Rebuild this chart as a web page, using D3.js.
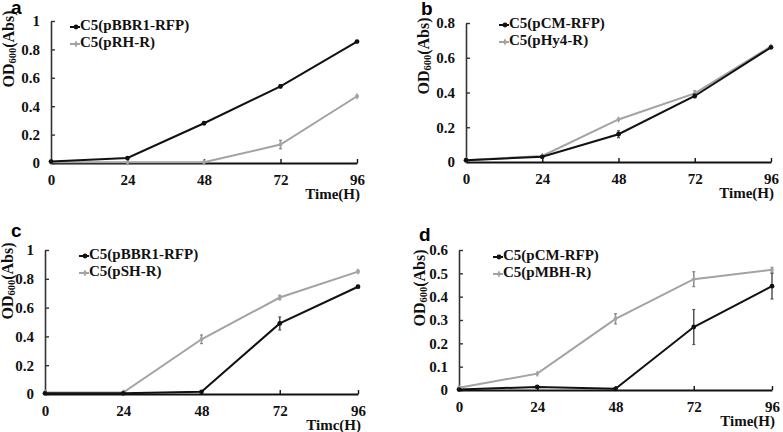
<!DOCTYPE html>
<html><head><meta charset="utf-8">
<script src="https://cdn.jsdelivr.net/npm/d3@7"></script>
<style>body{margin:0;background:#fff}svg{display:block}</style>
</head><body>
<svg id="c" width="783" height="432"></svg>
<script>
// ---- data ----
const timePoints = [0, 24, 48, 72, 96];
const xTickLabels = ["0", "24", "48", "72", "96"];
const panelLetters = ["a", "b", "c", "d"];
const xTitles = ["Time(H)", "Time(H)", "Timc(H)", "Time(H)"];
const blackNames = ["C5(pBBR1-RFP)", "C5(pCM-RFP)", "C5(pBBR1-RFP)", "C5(pCM-RFP)"];
const greyNames = ["C5(pRH-R)", "C5(pHy4-R)", "C5(pSH-R)", "C5(pMBH-R)"];

const aBlack = [0.01, 0.035, 0.28, 0.54, 0.855];
const aBlackErr = [0, 0.003, 0.005, 0.012, 0.005];
const aGrey = [0.005, 0.005, 0.005, 0.13, 0.47];
const aGreyErr = [0, 0, 0, 0.03, 0.005];

const bBlack = [0.01, 0.03, 0.16, 0.38, 0.66];
const bBlackErr = [0, 0.003, 0.02, 0.01, 0.005];
const bGrey = [0.01, 0.035, 0.245, 0.395, 0.665];
const bGreyErr = [0, 0.003, 0.005, 0.015, 0.005];

const cBlack = [0.005, 0.005, 0.015, 0.49, 0.745];
const cBlackErr = [0, 0, 0.005, 0.045, 0.008];
const cGrey = [0.01, 0.01, 0.38, 0.67, 0.85];
const cGreyErr = [0, 0, 0.03, 0.015, 0.008];

const dBlack = [0.002, 0.013, 0.005, 0.27, 0.445];
const dBlackErr = [0, 0.005, 0.002, 0.075, 0.055];
const dGrey = [0.01, 0.07, 0.305, 0.475, 0.515];
const dGreyErr = [0, 0.003, 0.022, 0.032, 0.01];

const aYTicks = [0, 0.2, 0.4, 0.6, 0.8, 1];
const aYLabels = ["0", "0.2", "0.4", "0.6", "0.8", "1"];
const bYTicks = [0, 0.2, 0.4, 0.6, 0.8];
const bYLabels = ["0", "0.2", "0.4", "0.6", "0.8"];
const cYTicks = [0, 0.2, 0.4, 0.6, 0.8, 1];
const cYLabels = ["0", "0.2", "0.4", "0.6", "0.8", "1"];
const dYTicks = [0, 0.1, 0.2, 0.3, 0.4, 0.5, 0.6];
const dYLabels = ["0", "0.1", "0.2", "0.3", "0.4", "0.5", "0.6"];

// ---- layout ----
const panels = [
  {x0: 51, x1: 357, y0: 163, y1: 21, ymax: 1, black: aBlack, be: aBlackErr, grey: aGrey, ge: aGreyErr, ticks: aYTicks, labels: aYLabels,
   letter: [11, 14], legend: [70, 27], ytitleY: 49, ytitleX: 10},
  {x0: 466, x1: 771, y0: 162, y1: 23, ymax: 0.8, black: bBlack, be: bBlackErr, grey: bGrey, ge: bGreyErr, ticks: bYTicks, labels: bYLabels,
   letter: [421, 15], legend: [499, 25], ytitleY: 56, ytitleX: 425},
  {x0: 45, x1: 358, y0: 394, y1: 250, ymax: 1, black: cBlack, be: cBlackErr, grey: cGrey, ge: cGreyErr, ticks: cYTicks, labels: cYLabels,
   letter: [11, 237], legend: [79, 256], ytitleY: 281, ytitleX: 9},
  {x0: 459, x1: 772, y0: 390, y1: 250, ymax: 0.6, black: dBlack, be: dBlackErr, grey: dGrey, ge: dGreyErr, ticks: dYTicks, labels: dYLabels,
   letter: [419, 241], legend: [493, 257], ytitleY: 288, ytitleX: 421}
];

const svg = d3.select("#c");
const serif = "'Liberation Serif','Times New Roman',serif";
const BLACK = "#111", GREY = "#a3a3a3", ERR = "#555";

panels.forEach((p, i) => {
  const g = svg.append("g");
  const x = d3.scaleLinear().domain([0, 96]).range([p.x0, p.x1]);
  const y = d3.scaleLinear().domain([0, p.ymax]).range([p.y0, p.y1]);

  // y axis
  const yAxis = d3.axisLeft(y).tickValues(p.ticks).tickFormat((d, k) => p.labels[k]).tickSizeInner(-4).tickSizeOuter(0).tickPadding(11);
  const ya = g.append("g").attr("transform", `translate(${p.x0},0)`).call(yAxis);
  ya.select(".domain").attr("stroke", "#333").attr("stroke-width", 1.6);
  ya.selectAll(".tick line").attr("stroke", "#333").attr("stroke-width", 1.4);
  ya.selectAll(".tick text").attr("font-family", serif).attr("font-weight", "bold").attr("font-size", 15).attr("fill", "#111");

  // x axis
  const xAxis = d3.axisBottom(x).tickValues(timePoints).tickFormat((d, k) => xTickLabels[k]).tickSizeInner(-4).tickSizeOuter(0).tickPadding(11);
  const xa = g.append("g").attr("transform", `translate(0,${p.y0})`).call(xAxis);
  xa.select(".domain").attr("stroke", "#111").attr("stroke-width", 2);
  xa.selectAll(".tick line").attr("stroke", "#111").attr("stroke-width", 1.4);
  xa.selectAll(".tick text").attr("font-family", serif).attr("font-weight", "bold").attr("font-size", 15).attr("fill", "#111");

  // x title
  g.append("text").attr("x", p.x1 + 3).attr("y", p.y0 + 36).attr("text-anchor", "end")
    .attr("font-family", serif).attr("font-weight", "bold").attr("font-size", 15).attr("fill", "#111").text(xTitles[i]);

  // y title
  const yt = g.append("text").attr("transform", `translate(${p.ytitleX},${p.ytitleY}) rotate(-90)`)
    .attr("text-anchor", "middle").attr("dominant-baseline", "middle")
    .attr("font-family", serif).attr("font-weight", "bold").attr("font-size", 16).attr("fill", "#111");
  yt.append("tspan").text("OD");
  yt.append("tspan").attr("font-size", 10.5).attr("dy", 4).text("600");
  yt.append("tspan").attr("dy", -4).text("(Abs)");

  // panel letter
  g.append("text").attr("x", p.letter[0]).attr("y", p.letter[1])
    .attr("font-family", "'Liberation Sans',Arial,sans-serif").attr("font-weight", "bold").attr("font-size", 19).attr("fill", "#000").text(panelLetters[i]);

  const line = d3.line().x((d, k) => x(timePoints[k])).y(d => y(d));

  const drawSeries = (vals, errs, color, marker) => {
    vals.forEach((v, k) => {
      if (errs[k] > 0.004) {
        const cx = x(timePoints[k]);
        const ec = color === BLACK ? ERR : "#888";
        g.append("line").attr("x1", cx).attr("x2", cx).attr("y1", y(v - errs[k])).attr("y2", y(v + errs[k]))
          .attr("stroke", ec).attr("stroke-width", 1.5);
        [v - errs[k], v + errs[k]].forEach(e => {
          g.append("line").attr("x1", cx - 1.5).attr("x2", cx + 1.5).attr("y1", y(e)).attr("y2", y(e))
            .attr("stroke", ec).attr("stroke-width", 1.2);
        });
      }
    });
    g.append("path").datum(vals).attr("d", line).attr("fill", "none").attr("stroke", color).attr("stroke-width", 2);
    vals.forEach((v, k) => {
      const cx = x(timePoints[k]), cy = y(v);
      if (marker === "circle") {
        g.append("circle").attr("cx", cx).attr("cy", cy).attr("r", 2.4).attr("fill", color);
      } else {
        g.append("path").attr("d", d3.symbol(d3.symbolDiamond, 14)()).attr("transform", `translate(${cx},${cy})`).attr("fill", color);
      }
    });
  };
  drawSeries(p.grey, p.ge, GREY, "diamond");
  drawSeries(p.black, p.be, BLACK, "circle");

  // legend
  const lg = g.append("g").attr("transform", `translate(${p.legend[0]},${p.legend[1]})`);
  [[blackNames[i], BLACK, "circle"], [greyNames[i], GREY, "diamond"]].forEach((it, k) => {
    const yy = k * 17;
    lg.append("line").attr("x1", 0).attr("x2", 10).attr("y1", yy).attr("y2", yy).attr("stroke", it[1]).attr("stroke-width", 2);
    if (it[2] === "circle") lg.append("circle").attr("cx", 6).attr("cy", yy).attr("r", 2.4).attr("fill", it[1]);
    else lg.append("path").attr("d", d3.symbol(d3.symbolDiamond, 14)()).attr("transform", `translate(6,${yy})`).attr("fill", it[1]);
    lg.append("text").attr("x", 10).attr("y", yy).attr("dominant-baseline", "middle")
      .attr("font-family", serif).attr("font-weight", "bold").attr("font-size", 15).attr("fill", "#111").text(it[0]);
  });
});
</script>
</body></html>
